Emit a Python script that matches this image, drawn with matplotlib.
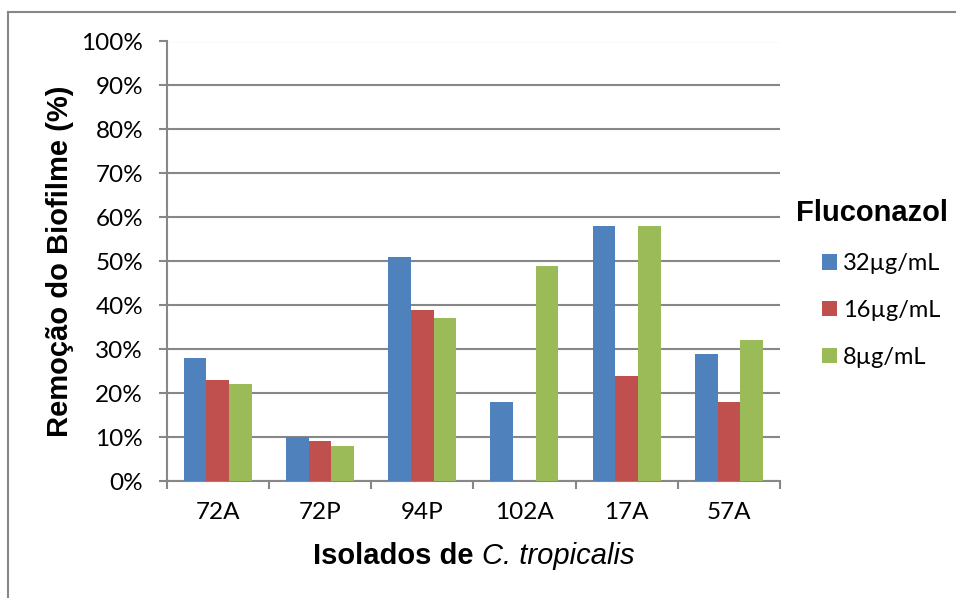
import numpy as np
import matplotlib.pyplot as plt
from matplotlib.lines import Line2D
from matplotlib.ticker import FixedLocator, PercentFormatter

# Dados: remoção do biofilme (%) por isolado e concentração de fluconazol
isolados = ["72A", "72P", "94P", "102A", "17A", "57A"]
series = ["32µg/mL", "16µg/mL", "8µg/mL"]
v32 = [28, 10, 51, 18, 58, 29]
v16 = [23, 9, 39, 0, 24, 18]
v8 = [22, 8, 37, 49, 58, 32]
cores = ["#4F81BD", "#C0504D", "#9BBB59"]

fonte = "Lato"
fonte_titulo = "Liberation Sans"
cinza = "#878787"

fig = plt.figure(figsize=(9.56, 5.98), dpi=100)
W, H = 956, 598
ax = fig.add_axes([166.7 / W, 1 - 481 / H, (780 - 166.7) / W, (481 - 41.5) / H])

# Barras agrupadas
x = np.arange(len(isolados)) + 0.5
largura = 0.222
for k, (vals, nome, cor) in enumerate(zip([v32, v16, v8], series, cores)):
    ax.bar(x + (k - 1) * largura, vals, width=largura, color=cor, label=nome, zorder=3)

ax.set_xlim(0, len(isolados))
ax.set_ylim(0, 100)

# Eixo Y
ax.set_yticks(np.arange(0, 101, 10))
ax.yaxis.set_major_formatter(PercentFormatter(decimals=0))
ax.grid(axis="y", color=cinza, linewidth=1.5, zorder=0)
ax.tick_params(axis="y", length=6, width=1.5, color=cinza, pad=11,
               labelsize=17.5)

# Eixo X: traços entre categorias, rótulos no centro
ax.xaxis.set_major_locator(FixedLocator(np.arange(len(isolados) + 1)))
ax.xaxis.set_minor_locator(FixedLocator(x))
ax.set_xticklabels([])
ax.set_xticklabels(isolados, minor=True)
ax.tick_params(axis="x", which="major", length=6, width=1.5, color=cinza)
ax.tick_params(axis="x", which="minor", length=0, pad=15, labelsize=17.5)

for lbl in ax.get_xticklabels(minor=True) + ax.get_yticklabels():
    lbl.set_fontfamily(fonte)

for s in ["top", "right"]:
    ax.spines[s].set_visible(False)
for s in ["left", "bottom"]:
    ax.spines[s].set_color(cinza)
    ax.spines[s].set_linewidth(1.5)

# Títulos dos eixos
fig.text(60 / W, 1 - 261 / H, "Remoção do Biofilme (%)", rotation=90,
         ha="center", va="center", fontsize=21, fontweight="bold",
         family=fonte_titulo)
t1 = fig.text(474 / W, 1 - 556 / H, "Isolados de ", ha="right", va="center",
              fontsize=21, fontweight="bold", family=fonte_titulo)
t2 = fig.text(474 / W, 1 - 556 / H, "C. tropicalis", ha="left", va="center",
              fontsize=21, style="italic", family=fonte_titulo)
# centraliza o conjunto dos dois textos
fig.canvas.draw()
r = fig.canvas.get_renderer()
w1 = t1.get_window_extent(r).width
w2 = t2.get_window_extent(r).width
xc = 474 + (w1 - w2) / 2
t1.set_x(xc / W)
t2.set_x(xc / W)

# Legenda
fig.text(872 / W, 1 - 213 / H, "Fluconazol", ha="center", va="center",
         fontsize=21, fontweight="bold", family=fonte_titulo)
ax.legend(loc="upper left", bbox_to_anchor=(822 / W, 1 - 253 / H),
          bbox_transform=fig.transFigure, frameon=False,
          prop={"family": fonte, "size": 17},
          handlelength=0.64, handleheight=0.64, handletextpad=0.25,
          labelspacing=1.1, borderaxespad=0, borderpad=0)

# Moldura externa do gráfico
fig.add_artist(Line2D([7.5 / W, 7.5 / W], [0, 1 - 12 / H], color=cinza,
                      linewidth=1.5, transform=fig.transFigure))
fig.add_artist(Line2D([7.5 / W, 1], [1 - 12 / H, 1 - 12 / H], color=cinza,
                      linewidth=1.5, transform=fig.transFigure))

fig.savefig("out.png", dpi=100)
